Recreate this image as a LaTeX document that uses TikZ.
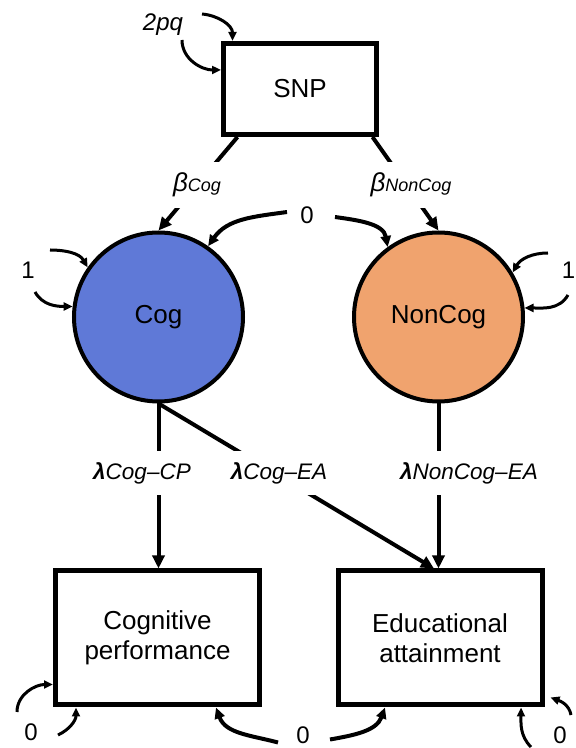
\documentclass[tikz,border=0pt]{standalone}
\usepackage{fontspec}
\setmainfont{Liberation Sans}
\usetikzlibrary{arrows.meta,calc}
\definecolor{cogblue}{HTML}{5F79D7}
\definecolor{noncogorange}{HTML}{F0A36E}
\newcommand{\betalabel}[1]{{\fontsize{26}{26}\selectfont\itshape β}{\fontsize{18}{18}\selectfont\itshape #1}}
\newcommand{\lamlabel}[1]{{\bfseries\itshape λ}{\itshape #1}}
\begin{document}
\begin{tikzpicture}[x=1pt,y=1pt,
  obsbox/.style={draw, line width=5pt, minimum width=204pt, minimum height=134pt, inner sep=0pt, align=center, font=\fontsize{26}{30}\selectfont},
  snpbox/.style={draw, line width=5pt, minimum width=153pt, minimum height=91pt, inner sep=0pt, font=\fontsize{26}{30}\selectfont},
  latent/.style={circle, draw, line width=4pt, minimum size=169pt, inner sep=0pt, font=\fontsize{26}{30}\selectfont},
  txtlabel/.style={inner sep=0pt, font=\fontsize{24}{29}\selectfont},
  gaplabel/.style={fill=white, inner xsep=2pt, inner ysep=11pt},
  lamfont/.style={font=\fontsize{22.5}{27}\selectfont},
  regarrow/.style={line width=4pt, -{Triangle[length=13pt,width=12pt]}},
  covarrow/.style={line width=4pt, -{Triangle[length=11pt,width=10pt]}},
  looparrow/.style={line width=3pt, -{Triangle[length=9pt,width=8pt]}}
]
\fill[white] (0,0) rectangle (576,748);
\useasboundingbox (0,0) rectangle (576,748);

% main nodes
\node[snpbox] (snp) at (300,659) {SNP};
\node[latent, fill=cogblue] (cog) at (158.5,431) {Cog};
\node[latent, fill=noncogorange] (noncog) at (438.5,431) {NonCog};
\node[obsbox] (cp) at (157.5,110) {Cognitive\\performance};
\node[obsbox] (ea) at (440,110) {Educational\\attainment};

% plain labels
\node[txtlabel, font=\fontsize{24}{29}\selectfont\itshape] (pq) at (163,723) {2pq};
\node[txtlabel] (z1) at (307,533) {0};
\node[txtlabel] (onel) at (28,478) {1};
\node[txtlabel] (oner) at (568.5,478) {1};
\node[txtlabel] (z3) at (31,16) {0};
\node[txtlabel] (z2) at (303,12.5) {0};
\node[txtlabel] (z4) at (560,13) {0};

% free ends of loops
\coordinate (snpA) at (202,734);
\coordinate (snpB) at (182,708);
\coordinate (cogA) at (50,498);
\coordinate (cogB) at (35,456);
\coordinate (ncA) at (548,495);
\coordinate (ncB) at (568,453);
\coordinate (cpA) at (17,36);
\coordinate (cpB) at (58,13);
\coordinate (eaA) at (531,1);
\coordinate (eaB) at (571,33);

% regressions
\draw[regarrow] ($(snp.south west)+(16.5,0)$) -- (cog.north);
\draw[regarrow] ($(snp.south east)+(-6.5,0)$) -- (noncog.north);
\draw[regarrow] (cog.south) -- (cog.south |- cp.north);
\draw[regarrow] (cog.south) -- ($(ea.north)+(-6,0)$);
\draw[regarrow] (noncog.south) -- (noncog.south |- ea.north);

% covariances
\draw[covarrow] ([shift={(-20pt,3pt)}]z1.center) to[out=188,in=55] (cog.55);
\draw[covarrow] ([shift={(28pt,-2pt)}]z1.center) to[out=-8,in=100] (noncog.126);
\draw[covarrow] ([shift={(-25pt,-7pt)}]z2.center) to[out=165,in=-70] ($(cp.south east)+(-46,0)$);
\draw[covarrow] ([shift={(27pt,-4pt)}]z2.center) to[out=10,in=-110] ($(ea.south west)+(49.5,0)$);

% variance loops
\draw[looparrow] (snpA) to[out=-5,in=90] ($(snp.north west)+(11.5,0)$);
\draw[looparrow] (snpB) to[out=-90,in=180] ($(snp.north west)+(0,-29)$);
\draw[looparrow] (cogA) to[out=0,in=120] (cog.145);
\draw[looparrow] (cogB) to[out=-60,in=180] (cog.173);
\draw[looparrow] (ncA) to[out=180,in=60] (noncog.31);
\draw[looparrow] (ncB) to[out=-120,in=0] (noncog.6);
\draw[looparrow] (cpA) to[out=90,in=180] ($(cp.south west)+(0,23)$);
\draw[looparrow] (cpB) to[out=25,in=-90] ($(cp.south west)+(23,0)$);
\draw[looparrow] (eaA) to[out=135,in=-90] ($(ea.south east)+(-23.5,0)$);
\draw[looparrow] (eaB) to[out=100,in=-20] ($(ea.south east)+(6,10)$);

% path labels cutting the lines
\node[gaplabel] (bcog) at (197,563) {\betalabel{Cog}};
\node[gaplabel] (bnoncog) at (411,563) {\betalabel{NonCog}};
\node[gaplabel, lamfont] (lcp) at (142,275) {\lamlabel{Cog–CP}};
\node[gaplabel, lamfont] (lcea) at (279,275) {\lamlabel{Cog–EA}};
\node[gaplabel, lamfont] (lnea) at (469,275) {\lamlabel{NonCog–EA}};
\end{tikzpicture}
\end{document}
